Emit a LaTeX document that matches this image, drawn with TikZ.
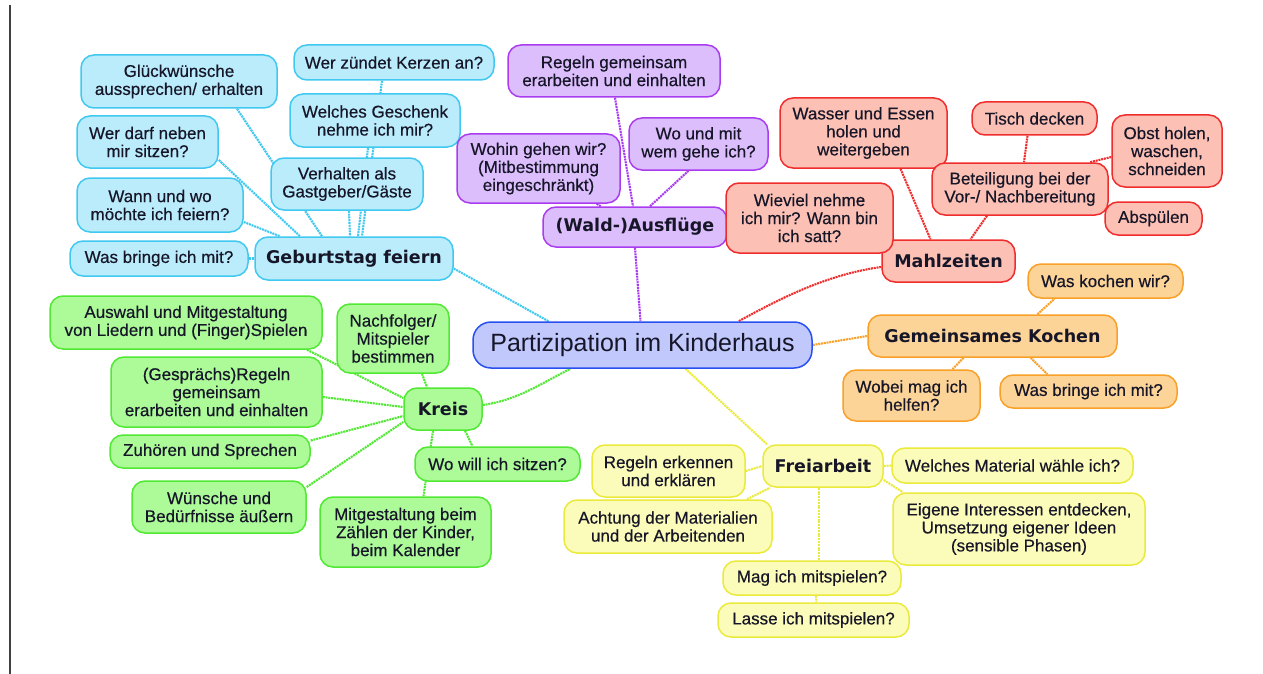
\documentclass[tikz,border=0pt]{standalone}
\usepackage{fontspec}
\setmainfont{Liberation Sans}
\newfontfamily\lblfont{Liberation Sans}[FakeBold=0.45]
\newfontfamily\catfont{DejaVu Sans}
\pgfdeclarelayer{bg}
\pgfsetlayers{bg,main}
\definecolor{txt}{RGB}{22,22,40}
\definecolor{cyF}{RGB}{186,236,252}\definecolor{cyD}{RGB}{64,200,240}
\definecolor{puF}{RGB}{220,190,252}\definecolor{puD}{RGB}{170,60,240}
\definecolor{rdF}{RGB}{252,192,180}\definecolor{rdD}{RGB}{240,45,45}
\definecolor{orF}{RGB}{252,212,152}\definecolor{orD}{RGB}{248,160,40}
\definecolor{grF}{RGB}{172,250,152}\definecolor{grD}{RGB}{80,232,50}
\definecolor{yeF}{RGB}{252,252,186}\definecolor{yeD}{RGB}{234,234,60}
\definecolor{ceF}{RGB}{192,200,252}\definecolor{ceD}{RGB}{40,80,240}
\tikzset{
  box/.style={draw, line width=1.5pt, rounded corners=13pt, align=center, inner sep=0pt,
    text=txt, font=\lblfont\fontsize{17}{18}\selectfont},
  cat/.style={font=\catfont\bfseries\fontsize{17.5}{20}\selectfont},
  cy/.style={box, fill=cyF, draw=cyD},
  pu/.style={box, fill=puF, draw=puD},
  rd/.style={box, fill=rdF, draw=rdD},
  or/.style={box, fill=orF, draw=orD},
  gr/.style={box, fill=grF, draw=grD},
  ye/.style={box, fill=yeF, draw=yeD},
  ce/.style={box, fill=ceF, draw=ceD, rounded corners=18pt, font=\fontsize{25}{28}\selectfont},
  lnk/.style={line width=2.1pt, dash pattern=on 2pt off 0.8pt},
  cyl/.style={lnk, cyD}, pul/.style={lnk, puD}, rdl/.style={lnk, rdD},
  orl/.style={lnk, orD}, grl/.style={lnk, grD}, yel/.style={lnk, yeD},
}
\newcommand\mm[7]{\node[#2,minimum width=#5pt,minimum height=#6pt] (#1) at (#3,#4) {#7};}
\begin{document}
\begin{tikzpicture}[x=1pt,y=-1pt]
\useasboundingbox (0,0) rectangle (1263,674);
\draw[line width=1.4pt, black!75] (10,5) -- (10,674);
% central
\mm{C}{ce}{642.5}{345}{339}{46}{Partizipation im Kinderhaus}
% blue
\mm{G}{cy,cat}{354}{258.5}{198}{43}{Geburtstag feiern}
\mm{WB}{cy}{159}{258.5}{178}{35}{Was bringe ich mit?}
\mm{WW}{cy}{160}{205}{166}{54}{Wann und wo\\möchte ich feiern?}
\mm{WD}{cy}{147.5}{142}{141}{52}{Wer darf neben\\mir sitzen?}
\mm{GL}{cy}{179}{81.5}{196}{53}{Glückwünsche\\aussprechen/ erhalten}
\mm{V}{cy}{347}{184}{152}{52}{Verhalten als\\Gastgeber/Gäste}
\mm{W}{cy}{375}{120.5}{170}{53}{Welches Geschenk\\nehme ich mir?}
\mm{WZ}{cy}{394}{62.5}{200}{35}{Wer zündet Kerzen an?}
% purple
\mm{A}{pu,cat}{635}{227}{184}{40}{(Wald-)Ausflüge}
\mm{RG}{pu}{614}{71}{212}{52}{Regeln gemeinsam\\erarbeiten und einhalten}
\mm{WM}{pu}{698.5}{144}{139}{52}{Wo und mit\\wem gehe ich?}
\mm{WO}{pu}{538.5}{168.5}{163}{69}{Wohin gehen wir?\\(Mitbestimmung\\eingeschränkt)}
% red
\mm{M}{rd,cat}{948.5}{261}{133}{42}{Mahlzeiten}
\mm{WE}{rd}{863.5}{133}{167}{70}{Wasser und Essen\\holen und\\weitergeben}
\mm{TD}{rd}{1034.5}{118.5}{125}{33}{Tisch decken}
\mm{OB}{rd}{1167}{151}{110}{72}{Obst holen,\\waschen,\\schneiden}
\mm{B}{rd}{1020}{189}{176}{52}{Beteiligung bei der\\Vor-/ Nachbereitung}
\mm{AB}{rd}{1153.5}{218.5}{97}{33}{Abspülen}
\mm{WV}{rd}{809.5}{218}{167}{70}{Wieviel nehme\\ich mir? Wann bin\\ich satt?}
% orange
\mm{K}{or,cat}{992.5}{336}{249}{42}{Gemeinsames Kochen}
\mm{WK}{or}{1105.5}{281}{155}{34}{Was kochen wir?}
\mm{WH}{or}{911.5}{395.5}{137}{51}{Wobei mag ich\\helfen?}
\mm{WBo}{or}{1088.5}{391.5}{177}{33}{Was bringe ich mit?}
% green
\mm{KR}{gr,cat}{443}{409}{78}{42}{Kreis}
\mm{AU}{gr}{186}{322.5}{272}{53}{Auswahl und Mitgestaltung\\von Liedern und (Finger)Spielen}
\mm{NF}{gr}{393}{338.5}{112}{69}{Nachfolger/\\Mitspieler\\bestimmen}
\mm{GR}{gr}{216.5}{392}{211}{70}{(Gesprächs)Regeln\\gemeinsam\\erarbeiten und einhalten}
\mm{ZS}{gr}{210}{451.5}{200}{33}{Zuhören und Sprechen}
\mm{WU}{gr}{219}{507}{174}{52}{Wünsche und\\Bedürfnisse äußern}
\mm{WS}{gr}{497.5}{464}{165}{34}{Wo will ich sitzen?}
\mm{MG}{gr}{405.5}{532}{171}{70}{Mitgestaltung beim\\Zählen der Kinder,\\beim Kalender}
% yellow
\mm{F}{ye,cat}{823}{466}{120}{42}{Freiarbeit}
\mm{RE}{ye}{668.5}{471}{153}{52}{Regeln erkennen\\und erklären}
\mm{AC}{ye}{668}{526.5}{208}{53}{Achtung der Materialien\\und der Arbeitenden}
\mm{MS}{ye}{812}{578}{178}{34}{Mag ich mitspielen?}
\mm{LM}{ye}{813.5}{620}{191}{34}{Lasse ich mitspielen?}
\mm{WMat}{ye}{1012.5}{465.5}{241}{35}{Welches Material wähle ich?}
\mm{EI}{ye}{1019}{529}{252}{72}{Eigene Interessen entdecken,\\Umsetzung eigener Ideen\\(sensible Phasen)}
\begin{pgfonlayer}{bg}
% blue
\draw[cyl] ([yshift=-10pt]G.east) -- ([xshift=-94pt]C.north);
\draw[cyl] (G.west) -- (WB.east);
\draw[cyl] ([yshift=-17pt]WW.east) -- ([xshift=-74pt]G.north);
\draw[cyl] ([yshift=-18pt]WD.east) -- ([xshift=-54pt]G.north);
\draw[cyl] ([xshift=58pt]GL.south) -- ([xshift=-32pt]G.north);
\draw[cyl] ([xshift=2pt]V.south) -- ([xshift=-4pt]G.north);
\draw[cyl] ([xshift=-7pt]W.south) -- ([xshift=4pt]G.north);
\draw[cyl] ([xshift=-12pt]WZ.south) -- ([xshift=8pt]G.north);
% purple
\draw[pul] (A.south) -- ([xshift=-2pt]C.north);
\draw[pul] ([xshift=1pt]RG.south) -- ([xshift=-2pt]A.north);
\draw[pul] ([xshift=-10pt]WM.south) -- ([xshift=15pt]A.north);
\draw[pul] (WO) -- (A);
% red
\draw[rdl] ([yshift=-6pt]M.west) .. controls +(-60,8) and +(30,-16) .. ([xshift=96pt]C.north);
\draw[rdl] ([xshift=37pt]WE.south) -- ([xshift=-18pt]M.north);
\draw[rdl] ([xshift=-33pt]B.south) -- ([xshift=22pt]M.north);
\draw[rdl] ([xshift=-7pt]TD.south) -- ([xshift=4pt]B.north);
\draw[rdl] ([yshift=-6pt]OB.west) -- ([xshift=70pt]B.north);
\draw[rdl] (AB) -- (B);
\draw[rdl] (WV) -- (M);
% orange
\draw[orl] (C.east) -- (K.west);
\draw[orl] ([xshift=45pt]K.north) -- ([xshift=-51pt]WK.south);
\draw[orl] ([xshift=-29pt]K.south) -- ([xshift=41pt]WH.north);
\draw[orl] ([xshift=38pt]K.south) -- ([xshift=-41pt]WBo.north);
% green
\draw[grl] ([yshift=4pt]KR.east) .. controls +(35,-5) and +(-30,15) .. ([xshift=-72pt]C.south);
\draw[grl] ([xshift=121pt]AU.south) -- ([yshift=11pt]KR.west);
\draw[grl] ([xshift=29pt]NF.south) -- ([xshift=-16pt]KR.north);
\draw[grl] ([yshift=-5pt]GR.east) -- ([yshift=2pt]KR.west);
\draw[grl] ([yshift=11pt]ZS.east) -- ([yshift=-7pt]KR.west);
\draw[grl] ([yshift=20pt]WU.east) -- ([yshift=-13pt]KR.west);
\draw[grl] ([xshift=22pt]KR.south) -- ([xshift=-25pt]WS.north);
\draw[grl] ([xshift=-10pt]KR.south) -- ([xshift=18pt]MG.north);
% yellow
\draw[yel] ([xshift=43pt]C.south) -- ([xshift=-56pt]F.north);
\draw[yel] (RE.east) -- (F.west);
\draw[yel] ([xshift=79pt]AC.north) -- ([xshift=-53pt]F.south);
\draw[yel] ([xshift=-4pt]F.south) -- ([xshift=7pt]MS.north);
\draw[yel] ([xshift=4pt]MS.south) -- ([xshift=3pt]LM.north);
\draw[yel] (F.east) -- (WMat.west);
\draw[yel] ([yshift=-14pt]F.east) -- ([xshift=-116pt]EI.north);
\end{pgfonlayer}
\end{tikzpicture}
\end{document}
